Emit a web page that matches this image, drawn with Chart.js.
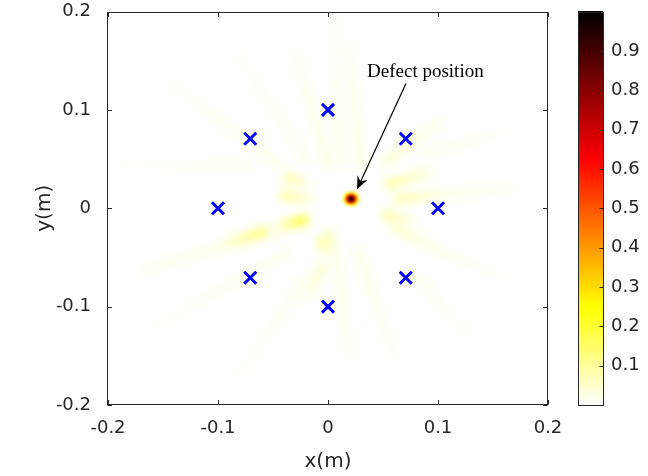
<!DOCTYPE html>
<html>
<head>
<meta charset="utf-8">
<script src="https://cdn.jsdelivr.net/npm/chart.js@4.4.1/dist/chart.umd.min.js"></script>
<style>
  html, body { margin: 0; padding: 0; background: #fff; }
  #wrap { width: 648px; height: 476px; }
</style>
</head>
<body>
<div id="wrap"><canvas id="c" width="648" height="476"></canvas></div>
<script>
// ---- axes ----
var xTicks = [-0.2, -0.1, 0, 0.1, 0.2];
var yTicks = [-0.2, -0.1, 0, 0.1, 0.2];
var cTicks = [0.1, 0.2, 0.3, 0.4, 0.5, 0.6, 0.7, 0.8, 0.9];

// ---- sensors (blue x) ----
var sensorX = [0, 0.0707, 0.1, 0.0707, 0, -0.0707, -0.1, -0.0707];
var sensorY = [0.1, 0.0707, 0, -0.0707, -0.1, -0.0707, 0, 0.0707];

// ---- faint streaks of the image (inner end, outer end, level) ----
var streakX0 = [-0.022, -0.058, -0.020, -0.036, -0.040, -0.045, -0.070, 0.030, 0.000, 0.012, 0.052, 0.055, 0.064, 0.090, 0.100, 0.052, 0.061, 0.100, 0.027, 0.009, 0.079, 0.000, -0.006, -0.005, -0.036, -0.020, -0.020];
var streakY0 = [-0.012, -0.024, -0.012, 0.031, 0.013, 0.045, 0.044, 0.047, 0.045, 0.045, 0.047, 0.024, 0.009, 0.057, 0.014, -0.007, -0.020, -0.043, -0.044, -0.051, -0.068, -0.027, -0.034, -0.060, -0.044, -0.070, 0.050];
var streakX1 = [-0.042, -0.092, -0.170, -0.022, -0.016, -0.140, -0.185, 0.018, -0.030, 0.004, 0.100, 0.091, 0.100, 0.164, 0.170, 0.075, 0.097, 0.160, 0.061, 0.018, 0.127, 0.006, -0.003, -0.020, -0.155, -0.080, -0.085];
var streakY1 = [-0.018, -0.036, -0.064, 0.026, 0.010, 0.125, 0.044, 0.165, 0.160, 0.190, 0.087, 0.037, 0.014, 0.077, 0.020, -0.013, -0.041, -0.070, -0.152, -0.152, -0.129, -0.044, -0.044, -0.090, -0.119, -0.170, 0.160];
var streakLevel = [0.23, 0.15, 0.035, 0.11, 0.11, 0.022, 0.015, 0.03, 0.028, 0.022, 0.05, 0.10, 0.09, 0.018, 0.025, 0.10, 0.06, 0.018, 0.025, 0.025, 0.018, 0.08, 0.12, 0.06, 0.018, 0.018, 0.018];

// ---- defect spot (rings from outside in) ----
var defectX = 0.021, defectY = 0.0095;
var spotRadius = [0.0092, 0.0068, 0.0049, 0.0032, 0.0016];
var spotLevel = [0.06, 0.30, 0.55, 0.82, 0.98];

// ---- annotation ----
var noteText = "Defect position";
var noteX = 0.0355, noteY = 0.133;
var arrowFrom = [0.0709, 0.1269];
var arrowTo = [0.0264, 0.0193];

var INK = "#262626";
var SANS = "'DejaVu Sans', sans-serif";

// flipped MATLAB "hot": 0 -> white, 1 -> black
function hot(v) {
  var t = 1 - Math.min(1, Math.max(0, v));
  var r = Math.min(1, t / 0.375);
  var g = Math.min(1, Math.max(0, (t - 0.375) / 0.375));
  var b = Math.min(1, Math.max(0, (t - 0.75) / 0.25));
  return "rgb(" + Math.round(r * 255) + "," + Math.round(g * 255) + "," + Math.round(b * 255) + ")";
}

var field = {
  id: "field",
  beforeDatasetsDraw: function (chart) {
    var ctx = chart.ctx, a = chart.chartArea, x = chart.scales.x, y = chart.scales.y;
    ctx.save();
    ctx.beginPath();
    ctx.rect(a.left, a.top, a.right - a.left, a.bottom - a.top);
    ctx.clip();
    ctx.fillStyle = hot(0);
    ctx.fillRect(a.left, a.top, a.right - a.left, a.bottom - a.top);

    ctx.filter = "blur(5px)";
    ctx.globalCompositeOperation = "darken";
    ctx.lineCap = "round";
    ctx.lineWidth = 9;
    streakLevel.forEach(function (lv, i) {
      var px0 = x.getPixelForValue(streakX0[i]), py0 = y.getPixelForValue(streakY0[i]);
      var px1 = x.getPixelForValue(streakX1[i]), py1 = y.getPixelForValue(streakY1[i]);
      var g = ctx.createLinearGradient(px0, py0, px1, py1);
      g.addColorStop(0, hot(lv));
      g.addColorStop(1, hot(lv * 0.35));
      ctx.strokeStyle = g;
      ctx.beginPath();
      ctx.moveTo(px0, py0);
      ctx.lineTo(px1, py1);
      ctx.stroke();
    });

    ctx.globalCompositeOperation = "source-over";
    ctx.filter = "blur(0.8px)";
    var cx = x.getPixelForValue(defectX), cy = y.getPixelForValue(defectY);
    spotRadius.forEach(function (r, i) {
      var rx = Math.abs(x.getPixelForValue(defectX + r) - cx);
      var ry = Math.abs(y.getPixelForValue(defectY + r) - cy);
      ctx.fillStyle = hot(spotLevel[i]);
      ctx.beginPath();
      ctx.ellipse(cx, cy, rx, ry, 0, 0, 2 * Math.PI);
      ctx.fill();
    });
    ctx.restore();
  },
  afterDatasetsDraw: function (chart) {
    var ctx = chart.ctx, x = chart.scales.x, y = chart.scales.y;
    ctx.save();
    ctx.fillStyle = "#000";
    ctx.font = "19px 'Liberation Serif', serif";
    ctx.textAlign = "left";
    ctx.textBaseline = "alphabetic";
    ctx.fillText(noteText, x.getPixelForValue(noteX), y.getPixelForValue(noteY));

    var x0 = x.getPixelForValue(arrowFrom[0]), y0 = y.getPixelForValue(arrowFrom[1]);
    var x1 = x.getPixelForValue(arrowTo[0]), y1 = y.getPixelForValue(arrowTo[1]);
    var ang = Math.atan2(y1 - y0, x1 - x0), hl = 13, hw = 5.5;
    var ux = Math.cos(ang), uy = Math.sin(ang);
    ctx.strokeStyle = "#000";
    ctx.lineWidth = 1.2;
    ctx.beginPath();
    ctx.moveTo(x0, y0);
    ctx.lineTo(x1 - ux * hl * 0.6, y1 - uy * hl * 0.6);
    ctx.stroke();
    ctx.beginPath();
    ctx.moveTo(x1, y1);
    ctx.lineTo(x1 - ux * hl - uy * hw, y1 - uy * hl + ux * hw);
    ctx.lineTo(x1 - ux * hl * 0.65, y1 - uy * hl * 0.65);
    ctx.lineTo(x1 - ux * hl + uy * hw, y1 - uy * hl - ux * hw);
    ctx.closePath();
    ctx.fill();
    ctx.restore();
  }
};

var frame = {
  id: "frame",
  afterDraw: function (chart) {
    var ctx = chart.ctx, a = chart.chartArea;
    var x = chart.scales.x, y = chart.scales.y, c = chart.scales.c;
    var L = Math.round(a.left) - 0.5, R = Math.round(a.right) - 0.5;
    var T = Math.round(a.top) + 0.5, B = Math.round(a.bottom) - 0.5;
    var tk = 4.5;
    ctx.save();
    ctx.strokeStyle = INK;
    ctx.lineWidth = 1;
    ctx.strokeRect(L, T, R - L, B - T);
    ctx.beginPath();
    xTicks.forEach(function (v) {
      var p = Math.round(x.getPixelForValue(v)) + 0.5;
      ctx.moveTo(p, B); ctx.lineTo(p, B - tk);
      ctx.moveTo(p, T); ctx.lineTo(p, T + tk);
    });
    yTicks.forEach(function (v) {
      var p = Math.round(y.getPixelForValue(v)) + 0.5;
      ctx.moveTo(L, p); ctx.lineTo(L + tk, p);
      ctx.moveTo(R, p); ctx.lineTo(R - tk, p);
    });
    ctx.stroke();

    // colour bar
    var bl = c.left + 30, bw = 25;
    var top = c.getPixelForValue(1), bot = c.getPixelForValue(0);
    for (var p = Math.floor(top); p < bot; p++) {
      ctx.fillStyle = hot(c.getValueForPixel(p + 0.5));
      ctx.fillRect(bl, p, bw, 1);
    }
    ctx.strokeRect(Math.round(bl) + 0.5, Math.round(top) + 0.5, bw, Math.round(bot - top) - 1);
    ctx.beginPath();
    cTicks.forEach(function (v) {
      var p = Math.round(c.getPixelForValue(v)) + 0.5;
      ctx.moveTo(bl + bw + 0.5, p); ctx.lineTo(bl + bw + 0.5 - 4, p);
    });
    ctx.stroke();
    ctx.restore();
  }
};

function tickFmt(v) { return String(Math.round(v * 10) / 10); }

// fixed box sizes, no automatic label padding
function fitTo(w, h) {
  return function (s) {
    if (w !== null) s.width = w;
    if (h !== null) s.height = h;
    s.paddingTop = 0; s.paddingBottom = 0; s.paddingLeft = 0; s.paddingRight = 0;
  };
}

new Chart(document.getElementById("c"), {
  type: "scatter",
  data: {
    datasets: [{
      data: sensorX.map(function (v, i) { return { x: v, y: sensorY[i] }; }),
      yAxisID: "y",
      pointStyle: "crossRot",
      pointRadius: 8.5,
      pointHoverRadius: 8.5,
      borderColor: "#0000ff",
      backgroundColor: "#0000ff",
      borderWidth: 3
    }]
  },
  options: {
    responsive: false,
    animation: false,
    events: [],
    layout: { padding: { top: 11, left: 0, right: 0, bottom: 0 } },
    plugins: { legend: { display: false }, tooltip: { enabled: false } },
    scales: {
      x: {
        type: "linear", min: -0.2, max: 0.2,
        afterBuildTicks: function (s) { s.ticks = xTicks.map(function (v) { return { value: v }; }); },
        afterFit: fitTo(null, 71),
        grid: { display: false }, border: { display: false },
        ticks: { padding: 5, color: INK, font: { family: SANS, size: 18 }, callback: tickFmt },
        title: { display: true, text: "x(m)", color: INK, font: { family: SANS, size: 20 }, padding: { top: 0, bottom: 2.5 } }
      },
      y: {
        type: "linear", min: -0.2, max: 0.2, position: "left",
        afterBuildTicks: function (s) { s.ticks = yTicks.map(function (v) { return { value: v }; }); },
        afterFit: fitTo(108, null),
        grid: { display: false }, border: { display: false },
        ticks: { padding: 9, color: INK, font: { family: SANS, size: 18 }, callback: tickFmt },
        title: { display: true, text: "y(m)", color: INK, font: { family: SANS, size: 20 }, padding: { top: 33, bottom: 0 } }
      },
      c: {
        type: "linear", axis: "y", position: "right", min: 0, max: 1,
        afterBuildTicks: function (s) { s.ticks = cTicks.map(function (v) { return { value: v }; }); },
        afterFit: fitTo(100, null),
        grid: { display: false }, border: { display: false },
        ticks: { padding: 55, color: INK, font: { family: SANS, size: 18 }, callback: tickFmt }
      }
    }
  },
  plugins: [field, frame]
});
</script>
</body>
</html>
